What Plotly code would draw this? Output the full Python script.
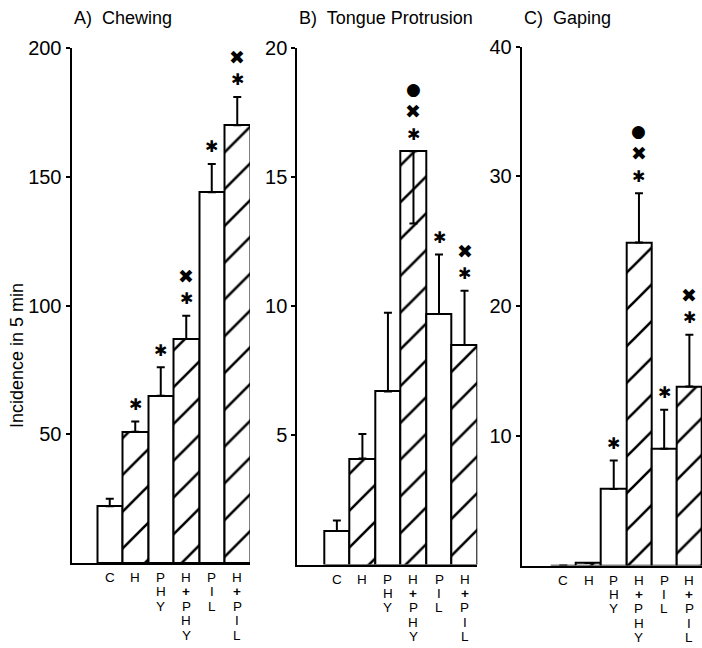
import plotly.graph_objects as go

# ---------------- data ----------------
categories = ["C", "H", "PHY", "H+PHY", "PIL", "H+PIL"]
hatch_shapes = ["", "/", "", "/", "", "/"]

chewing_mean = [22, 51, 65, 87, 144, 170]
chewing_err_plus = [3, 4, 11, 9, 11, 11]
chewing_err_minus = [0, 0, 0, 0, 0, 0]
chewing_marks = [[], ["*"], ["*"], ["*", "x"], ["*"], ["*", "x"]]

tongue_mean = [1.3, 4.1, 6.7, 16.0, 9.7, 8.5]
tongue_err_plus = [0.4, 0.95, 3.05, 0, 2.3, 2.1]
tongue_err_minus = [0, 0, 0, 2.8, 0, 0]
tongue_marks = [[], [], [], ["*", "x", "o"], ["*"], ["*", "x"]]

gaping_mean = [0, 0.2, 5.9, 24.9, 9.0, 13.8]
gaping_err_plus = [0, 0, 2.2, 3.8, 3.0, 4.0]
gaping_err_minus = [0, 0, 0, 0, 0, 0]
gaping_marks = [[], [], ["*"], ["*", "x", "o"], ["*"], ["*", "x"]]

panel_titles = ["A)\u00a0 Chewing", "B)\u00a0 Tongue Protrusion", "C)\u00a0 Gaping"]
y_ranges = [[0, 200], [0, 20], [0, 40]]
y_ticks = [[50, 100, 150, 200], [5, 10, 15, 20], [10, 20, 30, 40]]
y_title = "Incidence in 5 min"

# ---------------- layout geometry ----------------
W, H = 702, 648
FONT = "Liberation Sans, Arial, Helvetica, sans-serif"

x_px = [(71.5, 250.0), (297.3, 477.3), (521.7, 702.0)]
x_ranges = [[-0.5, 6.5], [-0.55, 6.5], [-0.65, 6.5]]
y_px = [(563.0, 48.0), (564.5, 48.0), (565.5, 46.7)]

panels = [
    (chewing_mean, chewing_err_plus, chewing_err_minus, chewing_marks),
    (tongue_mean, tongue_err_plus, tongue_err_minus, tongue_marks),
    (gaping_mean, gaping_err_plus, gaping_err_minus, gaping_marks),
]

glyphs = {"*": "\u2731", "x": "\u2716", "o": "\u25CF"}
glyph_size = {"*": 16, "x": 19, "o": 17}
mark_shift = [17, 40, 62]

fig = go.Figure()
annotations = []
xpos = list(range(1, len(categories) + 1))

for p, (mean, eplus, eminus, marks) in enumerate(panels):
    sfx = "" if p == 0 else str(p + 1)
    xa, ya = "x" + sfx, "y" + sfx
    fig.add_trace(go.Bar(
        x=xpos, y=mean, width=1.0,
        xaxis=xa, yaxis=ya,
        marker=dict(color="white",
                    line=dict(color="black", width=2),
                    pattern=dict(shape=hatch_shapes, fgcolor="black", fgopacity=1,
                                 bgcolor="white", size=26, solidity=0.1)),
        error_y=dict(type="data", symmetric=False, array=eplus, arrayminus=eminus,
                     color="black", thickness=2, width=4),
        showlegend=False, hoverinfo="skip",
    ))
    fig.update_layout(**{
        "xaxis" + sfx: dict(domain=[x_px[p][0] / W, x_px[p][1] / W], range=x_ranges[p],
                            anchor=ya, showline=True, linecolor="black", linewidth=2,
                            showticklabels=False, ticks="", showgrid=False, zeroline=False,
                            automargin=False, fixedrange=True),
        "yaxis" + sfx: dict(domain=[1 - y_px[p][0] / H, 1 - y_px[p][1] / H], range=y_ranges[p],
                            anchor=xa, showline=True, linecolor="black", linewidth=2,
                            ticks="outside", ticklen=4, tickwidth=1.5, tickcolor="black",
                            tickvals=y_ticks[p], ticktext=[str(v) for v in y_ticks[p]],
                            tickfont=dict(size=20, color="black", family=FONT),
                            showgrid=False, zeroline=False, automargin=False,
                            fixedrange=True),
    })
    # significance marks
    for i, ms in enumerate(marks):
        top = mean[i] + eplus[i]
        for k, m in enumerate(ms):
            annotations.append(dict(x=xpos[i], y=top, xref=xa, yref=ya, text=glyphs[m],
                                    showarrow=False, yanchor="middle", xanchor="center",
                                    yshift=mark_shift[k],
                                    font=dict(size=glyph_size[m], color="black",
                                              family="DejaVu Sans")))
    # vertical category labels (one letter per row)
    for i, cat in enumerate(categories):
        for j, ch in enumerate(cat):
            annotations.append(dict(x=xpos[i], y=0, xref=xa, yref=ya,
                                    text=("<b>+</b>" if ch == "+" else ch),
                                    showarrow=False, yanchor="middle", xanchor="center",
                                    valign="middle", height=14,
                                    yshift=-(14 + 14.4 * j),
                                    font=dict(size=13.5, color="black", family=FONT)))
    # panel title
    annotations.append(dict(x=x_px[p][0] / W, y=1 - 18 / H, xref="paper", yref="paper",
                            text=panel_titles[p], showarrow=False,
                            xanchor="left", yanchor="middle",
                            font=dict(size=18, color="black", family=FONT)))

annotations.append(dict(x=17 / W, y=1 - 356 / H, xref="paper", yref="paper",
                        text=y_title, textangle=-90, showarrow=False,
                        xanchor="center", yanchor="middle",
                        font=dict(size=18, color="black", family=FONT)))

fig.update_layout(width=W, height=H, margin=dict(l=0, r=0, t=0, b=0, pad=0, autoexpand=False),
                  paper_bgcolor="white", plot_bgcolor="white",
                  bargap=0, annotations=annotations,
                  font=dict(family=FONT, color="black"))

fig.write_html("out.html", config={"displayModeBar": False},
               post_script="document.body.style.margin='0';")
